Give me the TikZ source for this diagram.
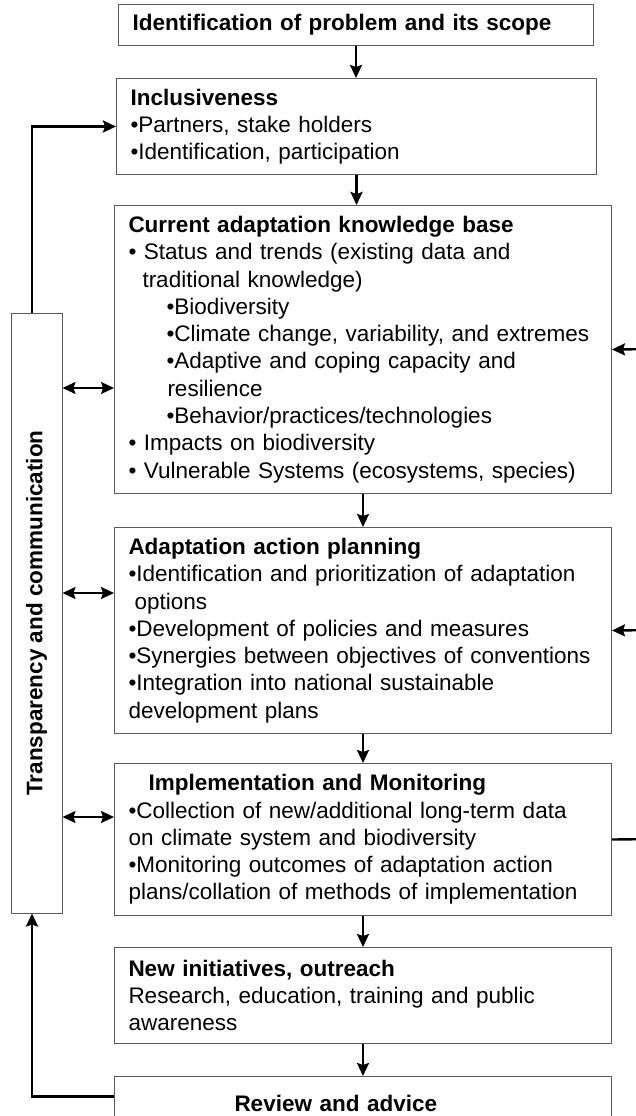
\documentclass[tikz,border=0pt]{standalone}
\usepackage{graphicx}
\usepackage{fontspec}
\setmainfont{Liberation Sans}
\usetikzlibrary{arrows.meta}
\usetikzlibrary{positioning}

\tikzset{
	box/.style={draw=black!65,line width=1pt,anchor=north west,inner xsep=14pt,inner ysep=0pt,align=left,font=\fontsize{22.5}{27.3}\selectfont},
	flow/.style={line width=2.4pt,-{Stealth[length=13pt,width=12pt,inset=2pt]}},
	both/.style={line width=1.8pt,{Stealth[length=13pt,width=12pt,inset=2pt]}-{Stealth[length=13pt,width=12pt,inset=2pt]}},
	link/.style={line width=2.4pt},
}

\begin{document}
\begin{tikzpicture}[x=1pt,y=-1pt]
		\useasboundingbox (0,0) rectangle (636,1116);
		\fill[white] (0,0) rectangle (636,1116);
		%main column of boxes
		\node[box,text width=447pt,minimum height=41pt] (problem) at (118,4) {\textbf{Identification of problem and its scope}};
		\node[box,text width=452pt,minimum height=96pt] (incl) at (116,78) {\textbf{Inclusiveness}\\•Partners, stake holders\\•Identification, participation};
		\node[box,text width=469pt,minimum height=288pt] (know) at (114,205) {\textbf{Current adaptation knowledge base}\\
			• Status and trends (existing data and\\
			\hspace*{14pt}traditional knowledge)\\
			\hspace*{38pt}•Biodiversity\\
			\hspace*{38pt}•Climate change, variability, and extremes\\
			\hspace*{38pt}•Adaptive and coping capacity and\\
			\hspace*{39pt}resilience\\
			\hspace*{38pt}•Behavior/practices/technologies\\
			• Impacts on biodiversity\\
			• Vulnerable Systems (ecosystems, species)};
		\node[box,text width=469pt,minimum height=206pt] (plan) at (114,527) {\textbf{Adaptation action planning}\\
			•Identification and prioritization of adaptation\\
			\hspace*{6pt}options\\
			•Development of policies and measures\\
			•Synergies between objectives of conventions\\
			•Integration into national sustainable\\
			development plans};
		\node[box,text width=469pt,minimum height=152pt] (impl) at (114,763) {\hspace*{20pt}\textbf{Implementation and Monitoring}\\
			•Collection of new/additional long-term data\\
			on climate system and biodiversity\\
			•Monitoring outcomes of adaptation action\\
			plans/collation of methods of implementation};
		\node[box,text width=469pt,minimum height=96pt] (outreach) at (114,947) {\textbf{New initiatives, outreach}\\
			Research, education, training and public\\
			awareness};
		\node[box,text width=469pt,minimum height=54pt] (review) at (114,1076) {\hspace*{106pt}\textbf{Review and advice}};
		%side box
		\node[draw=black!65,line width=1pt,minimum width=51pt,minimum height=600pt,inner sep=0pt,font=\fontsize{22.5}{27.3}\selectfont\bfseries] (transp) at (36.5,613) {\rotatebox{90}{Transparency and communication}};
		%arrows down the column
		\draw[flow] (problem.south) -- (problem.south |- incl.north);
		\draw[flow] (incl.south) -- (incl.south |- know.north);
		\draw[flow] (know.south) -- (plan.north);
		\draw[flow] (plan.south) -- (impl.north);
		\draw[flow] (impl.south) -- (outreach.north);
		\draw[flow] (outreach.south) -- (review.north);
		%feedback loop on the left
		\draw[flow] ([xshift=-4.5pt]transp.north) |- (incl.west);
		\draw[flow] ([yshift=7pt]review.west) -| ([xshift=-4.5pt]transp.south);
		\draw[both] (transp.east |- 0,388) -- (know.west |- 0,388);
		\draw[both] (transp.east |- 0,593) -- (plan.west |- 0,593);
		\draw[both] (transp.east |- 0,817) -- (impl.west |- 0,817);
		%links on the right
		\coordinate (inA) at (660,349);
		\coordinate (inB) at (660,630);
		\coordinate (outC) at (660,839);
		\draw[flow] (inA) -- (know.east);
		\draw[flow] (inB) -- (plan.east);
		\draw[link] (impl.east) -- (outC);
	\end{tikzpicture}
\end{document}
